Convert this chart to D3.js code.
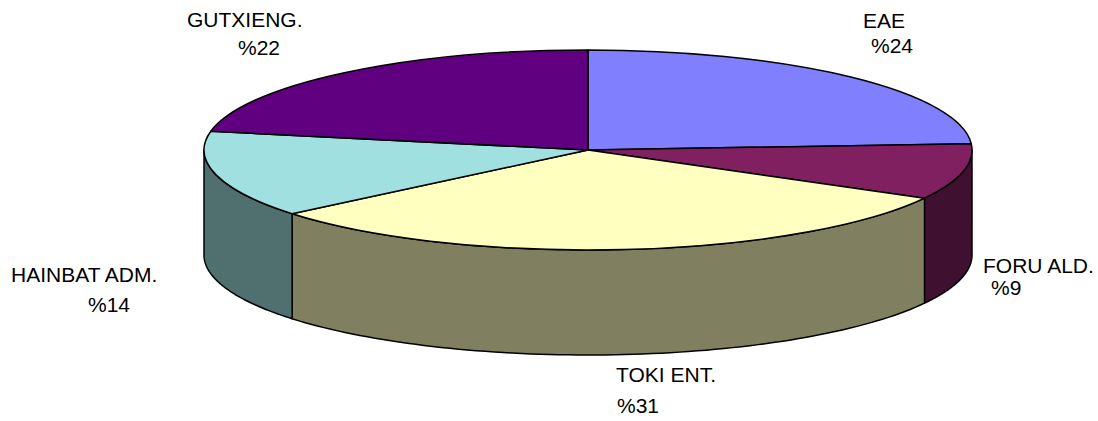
<!DOCTYPE html>
<html>
<head>
<meta charset="utf-8">
<script src="https://cdn.jsdelivr.net/npm/d3@7"></script>
<style>
  html, body { margin: 0; padding: 0; background: #ffffff; }
  svg { display: block; }
  text { font-family: "Liberation Sans", Arial, sans-serif; font-size: 21px; fill: #000; }
</style>
</head>
<body>
<svg id="chart" width="1098" height="421"></svg>
<script>
// ---- data ----
const categories = ["EAE", "FORU ALD.", "TOKI ENT.", "HAINBAT ADM.", "GUTXIENG."];
const values = [24, 9, 31, 14, 22];
const percentLabels = ["%24", "%9", "%31", "%14", "%22"];

// ---- styles / layout ----
const topColors  = ["#8080FF", "#802060", "#FFFFC0", "#A0E0E0", "#600080"];
const sideColors = ["#4040C0", "#401030", "#808060", "#507070", "#300040"];
const cx = 588, cy = 150, rx = 384, ry = 100, depth = 105;
// label layout: [x1, baseline1, x2, baseline2]
const labelLayout = [
  [863, 28, 871, 53],
  [983, 273, 991, 295],
  [616, 382, 617, 413],
  [11, 282, 88, 312],
  [187, 27, 238, 55]
];

const svg = d3.select("#chart");
const data = categories.map((c, i) => ({ name: c, value: values[i], pct: percentLabels[i], i }));
const pie = d3.pie().sort(null).value(d => d.value);
const arcs = pie(data);

const pt = (a, dy) => [cx + rx * Math.sin(a), cy - ry * Math.cos(a) + (dy || 0)];
const line = d3.line();

// side walls (front half: angles between PI/2 and 3PI/2)
const sideG = svg.append("g");
arcs.forEach(a => {
  const s = Math.max(a.startAngle, Math.PI / 2);
  const e = Math.min(a.endAngle, 3 * Math.PI / 2);
  if (e <= s) return;
  const n = 80;
  const angs = d3.range(n + 1).map(k => s + (e - s) * k / n);
  const pts = angs.map(t => pt(t, 0)).concat(angs.slice().reverse().map(t => pt(t, depth)));
  sideG.append("path")
    .attr("d", line(pts) + "Z")
    .attr("fill", sideColors[a.data.i])
    .attr("stroke", "#000")
    .attr("stroke-width", 1.5)
    .attr("stroke-linejoin", "round");
});

// top faces
const arcGen = d3.arc().innerRadius(0).outerRadius(rx);
const topG = svg.append("g")
  .attr("transform", `translate(${cx},${cy}) scale(1,${ry / rx})`);
topG.selectAll("path").data(arcs).join("path")
  .attr("d", arcGen)
  .attr("fill", d => topColors[d.data.i])
  .attr("stroke", "#000")
  .attr("stroke-width", 1.5)
  .attr("stroke-linejoin", "round")
  .attr("vector-effect", "non-scaling-stroke");

// labels
const lg = svg.append("g");
arcs.forEach(a => {
  const L = labelLayout[a.data.i];
  lg.append("text").attr("x", L[0]).attr("y", L[1]).text(a.data.name);
  lg.append("text").attr("x", L[2]).attr("y", L[3]).text(a.data.pct);
});
</script>
</body>
</html>
